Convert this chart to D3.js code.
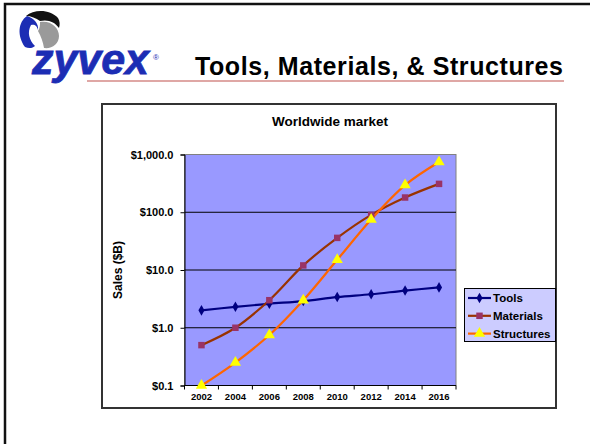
<!DOCTYPE html>
<html>
<head>
<meta charset="utf-8">
<script src="https://cdn.jsdelivr.net/npm/d3@7"></script>
<style>
  body { margin: 0; background: #fff; }
  svg { display: block; font-family: "Liberation Sans", Arial, sans-serif; }
</style>
</head>
<body>
<script>
// chart data
const years = ["2002", "2004", "2006", "2008", "2010", "2012", "2014", "2016"];
const tools = [2.0, 2.3, 2.6, 2.9, 3.4, 3.8, 4.4, 5.0];
const materials = [0.5, 1.0, 3.0, 12, 36, 90, 180, 310];
const structures = [0.1, 0.25, 0.75, 3.0, 15, 75, 295, 740];
const yTicks = [0.1, 1, 10, 100, 1000];
const seriesNames = ["Tools", "Materials", "Structures"];

const width = 590;
const height = 444;

// plot area
const plot = { left: 184.5, right: 456, top: 154.5, bottom: 385.5 };

let svg = d3.select("body")
    .append("svg")
    .attr("width", width)
    .attr("height", height);

// slide frame (left and top edges show)
svg.append("rect")
    .attr("x", 5).attr("y", 4)
    .attr("width", 600).attr("height", 460)
    .attr("fill", "none")
    .attr("stroke", "#111")
    .attr("stroke-width", 2.5);

// logo swirl
let logo = svg.append("g");
logo.append("path")
    .attr("d", "M40,22 C50,20 59,27 59,36 C59,44 52,49 44,48 C43,42 41,36 38,31 C40,28 40,25 40,22 Z")
    .attr("fill", "#9a9a9a");
logo.append("path")
    .attr("d", "M26,16 C34,9 50,9 58,18 C60,21 60,25 59,28 C55,22 48,19 40,21 C36,18 31,16 26,16 Z")
    .attr("fill", "#111");
logo.append("path")
    .attr("d", "M27,16 C18,22 17,36 25,47 C29,49 33,48 35,46 C29,40 27,32 31,25 C34,24 37,25 38,30 C39,24 34,18 27,16 Z")
    .attr("fill", "#1c2db4");

svg.append("text")
    .attr("x", 32).attr("y", 74)
    .attr("font-size", 43)
    .attr("font-weight", "bold")
    .attr("font-style", "italic")
    .attr("fill", "#1c2db4")
    .attr("stroke", "#1c2db4")
    .attr("stroke-width", 0.8)
    .attr("textLength", 117)
    .text("zyvex");
svg.append("text")
    .attr("x", 153).attr("y", 60)
    .attr("font-size", 8)
    .attr("fill", "#1c2db4")
    .text("®");

// slide title and red rule
svg.append("line")
    .attr("x1", 87).attr("x2", 564)
    .attr("y1", 81).attr("y2", 81)
    .attr("stroke", "#c0504d")
    .attr("stroke-width", 1.2);
svg.append("text")
    .attr("x", 195).attr("y", 75)
    .attr("font-size", 25)
    .attr("font-weight", "bold")
    .attr("fill", "#000")
    .attr("textLength", 368)
    .text("Tools, Materials, & Structures");

// chart area box
svg.append("rect")
    .attr("x", 102).attr("y", 104)
    .attr("width", 454).attr("height", 304)
    .attr("fill", "#fff")
    .attr("stroke", "#333")
    .attr("stroke-width", 2);

svg.append("text")
    .attr("x", 330).attr("y", 126)
    .attr("text-anchor", "middle")
    .attr("font-size", 13.5)
    .attr("font-weight", "bold")
    .text("Worldwide market");

// scales
let x = d3.scaleBand()
    .domain(years)
    .range([plot.left, plot.right])
    .padding(0);
let y = d3.scaleLog()
    .domain([0.1, 1000])
    .range([plot.bottom, plot.top]);

// plot background
svg.append("rect")
    .attr("x", plot.left).attr("y", plot.top)
    .attr("width", plot.right - plot.left)
    .attr("height", plot.bottom - plot.top)
    .attr("fill", "#9999ff")
    .attr("stroke", "#808080")
    .attr("stroke-width", 1);

// gridlines
svg.selectAll(".grid")
    .data(yTicks.slice(1, -1))
    .enter()
    .append("line")
    .attr("class", "grid")
    .attr("x1", plot.left).attr("x2", plot.right)
    .attr("y1", d => y(d)).attr("y2", d => y(d))
    .attr("stroke", "#000")
    .attr("stroke-width", 1);

// y axis
let yAxis = svg.append("g")
    .attr("transform", "translate(" + plot.left + ",0)")
    .call(d3.axisLeft(y)
        .tickValues(yTicks)
        .tickFormat(d3.format("$,.1f"))
        .tickSize(4)
        .tickPadding(7));
yAxis.select(".domain").attr("stroke", "#000");
yAxis.selectAll("text")
    .attr("font-size", 11)
    .attr("font-weight", "bold")
    .attr("font-family", "Liberation Sans, Arial, sans-serif")
    .attr("fill", "#000");

// x axis: labels centred, ticks between categories
let xAxis = svg.append("g")
    .attr("transform", "translate(0," + plot.bottom + ")")
    .call(d3.axisBottom(x).tickSize(0).tickPadding(8));
xAxis.select(".domain").remove();
xAxis.selectAll("text")
    .attr("font-size", 9.5)
    .attr("font-weight", "bold")
    .attr("font-family", "Liberation Sans, Arial, sans-serif")
    .attr("fill", "#000");
svg.append("line")
    .attr("x1", plot.left).attr("x2", plot.right)
    .attr("y1", plot.bottom).attr("y2", plot.bottom)
    .attr("stroke", "#000");
svg.selectAll(".xtick")
    .data(years.concat(["end"]))
    .enter()
    .append("line")
    .attr("class", "xtick")
    .attr("x1", (d, i) => plot.left + i * x.bandwidth())
    .attr("x2", (d, i) => plot.left + i * x.bandwidth())
    .attr("y1", plot.bottom).attr("y2", plot.bottom + 4)
    .attr("stroke", "#000");

// y axis title
svg.append("text")
    .attr("transform", "translate(122,270) rotate(-90)")
    .attr("text-anchor", "middle")
    .attr("font-size", 12)
    .attr("font-weight", "bold")
    .text("Sales ($B)");

// series
const series = [
    { name: "Tools", values: tools, line: "#000080", marker: "diamond", fill: "#000080", size: 32 },
    { name: "Materials", values: materials, line: "#993300", marker: "square", fill: "#993366", size: 42 },
    { name: "Structures", values: structures, line: "#ff6600", marker: "triangle", fill: "#ffff00", size: 55 }
];
const symbols = { diamond: d3.symbolDiamond, square: d3.symbolSquare, triangle: d3.symbolTriangle };

let line = d3.line()
    .x((d, i) => x(years[i]) + x.bandwidth() / 2)
    .y(d => y(d))
    .curve(d3.curveCatmullRom.alpha(0.5));

series.forEach(function(s) {
    svg.append("path")
        .attr("d", line(s.values))
        .attr("fill", "none")
        .attr("stroke", s.line)
        .attr("stroke-width", 2.2);
});
series.forEach(function(s) {
    svg.selectAll(".m-" + s.name)
        .data(s.values)
        .enter()
        .append("path")
        .attr("d", d3.symbol().type(symbols[s.marker]).size(s.size))
        .attr("transform", (d, i) => "translate(" + (x(years[i]) + x.bandwidth() / 2) + "," + y(d) + ")")
        .attr("fill", s.fill);
});

// legend
let legend = svg.append("g");
legend.append("rect")
    .attr("x", 464.5).attr("y", 288.5)
    .attr("width", 91).attr("height", 53)
    .attr("fill", "#ccccff")
    .attr("stroke", "#000")
    .attr("stroke-width", 1);
series.forEach(function(s, i) {
    let ly = 298 + i * 17.8;
    legend.append("line")
        .attr("x1", 468).attr("x2", 491)
        .attr("y1", ly).attr("y2", ly)
        .attr("stroke", s.line)
        .attr("stroke-width", 2.2);
    legend.append("path")
        .attr("d", d3.symbol().type(symbols[s.marker]).size(s.size))
        .attr("transform", "translate(479.5," + ly + ")")
        .attr("fill", s.fill);
    legend.append("text")
        .attr("x", 493).attr("y", ly + 4)
        .attr("font-size", 11.5)
        .attr("font-weight", "bold")
        .text(seriesNames[i]);
});
</script>
</body>
</html>
